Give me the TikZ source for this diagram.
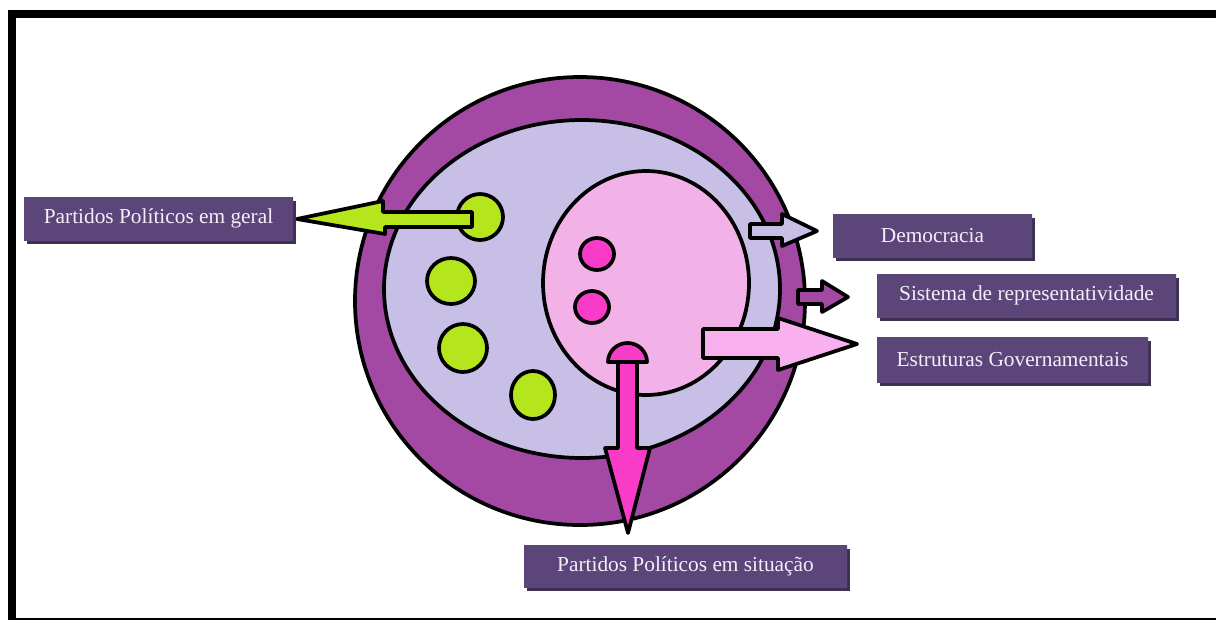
\documentclass[tikz,border=0pt]{standalone}
\usepackage{fontspec}
\setmainfont{Liberation Serif}
\usetikzlibrary{shadows}

\definecolor{roxo}{HTML}{A349A4}
\definecolor{lavanda}{HTML}{C8BFE7}
\definecolor{rosaclaro}{HTML}{F2B2E8}
\definecolor{rosaseta}{HTML}{F8B0EE}
\definecolor{verdelima}{HTML}{B5E61D}
\definecolor{rosaforte}{HTML}{F83CC8}
\definecolor{caixaborda}{HTML}{5C4679}
\definecolor{caixameio}{HTML}{7A5D9C}
\definecolor{sombra}{HTML}{3E3052}
\definecolor{textoclaro}{HTML}{F4EEFA}

\tikzset{
  contorno/.style={draw=black, line width=2.8pt, line join=round},
  caixa/.style={rectangle, inner sep=0pt, text=textoclaro,
    font=\fontsize{16}{19}\selectfont,
    top color=caixaborda, middle color=caixameio, bottom color=caixaborda,
    drop shadow={shadow xshift=2.5pt, shadow yshift=-3pt, fill=sombra, opacity=1}},
}

\begin{document}
\begin{tikzpicture}[x=0.75pt, y=-0.75pt]

      \useasboundingbox (0,0) rectangle (1216,619);

      % Moldura
      \draw[line width=6pt] (11.5,14) rectangle (1222,622);

      % Circulos concentricos
      \draw[contorno, fill=roxo] (580,301) ellipse [x radius=225, y radius=224];
      \draw[contorno, fill=lavanda] (582,289) ellipse [x radius=198, y radius=169];
      \draw[contorno, fill=rosaclaro] (646,283) ellipse [x radius=103, y radius=112];

      % Bolas verdes
      \draw[contorno, fill=verdelima] (480,217) circle (23);
      \draw[contorno, fill=verdelima] (451,281) ellipse [x radius=24, y radius=23];
      \draw[contorno, fill=verdelima] (463,348) circle (24);
      \draw[contorno, fill=verdelima] (533,395) ellipse [x radius=22, y radius=24];

      % Bolas rosa
      \draw[contorno, fill=rosaforte] (597,254) ellipse [x radius=17, y radius=16];
      \draw[contorno, fill=rosaforte] (592,307) ellipse [x radius=17, y radius=16];

      % Seta verde (para a esquerda)
      \coordinate (pontaVerde) at (297,219);
      \draw[contorno, fill=verdelima] (472,212) -- (383,212) -- (383,201) -- (pontaVerde)
        -- (385,234) -- (385,227) -- (472,227) -- cycle;

      % Seta rosa (para baixo)
      \coordinate (pontaRosa) at (628,533);
      \draw[contorno, fill=rosaforte] (618,362) -- (618,448) -- (605,448) -- (pontaRosa)
        -- (650,448) -- (637,448) -- (637,362) -- cycle;
      \draw[contorno, fill=rosaforte] (608,362) arc [start angle=180, end angle=360, x radius=19.5, y radius=19] -- cycle;

      % Setas da direita
      \coordinate (pontaDemo) at (817,231);
      \draw[contorno, fill=lavanda] (750,224) -- (782,224) -- (782,214) -- (pontaDemo)
        -- (782,246) -- (782,238) -- (750,238) -- cycle;

      \coordinate (pontaSist) at (848,297);
      \draw[contorno, fill=roxo] (798,290) -- (822,290) -- (822,281) -- (pontaSist)
        -- (822,312) -- (822,304) -- (798,304) -- cycle;

      \coordinate (pontaEstr) at (857,344);
      \draw[contorno, fill=rosaseta] (703,329) -- (778,329) -- (778,318) -- (pontaEstr)
        -- (778,370) -- (778,358) -- (703,358) -- cycle;

      % Caixas de texto
      \node[caixa, minimum width=201.75pt, minimum height=32.25pt] (geral) at (158.5,218.5) {Partidos Políticos em geral};
      \node[caixa, minimum width=149.25pt, minimum height=32.25pt] (demo) at (932.5,235.5) {Democracia};
      \node[caixa, minimum width=224.25pt, minimum height=32.25pt] (sist) at (1026.5,295.5) {Sistema de representatividade};
      \node[caixa, minimum width=203.25pt, minimum height=33.75pt] (estr) at (1012.5,359.5) {Estruturas Governamentais};
      \node[caixa, minimum width=242.25pt, minimum height=31.5pt] (situ) at (685.5,566) {Partidos Políticos em situação};

\end{tikzpicture}
\end{document}
